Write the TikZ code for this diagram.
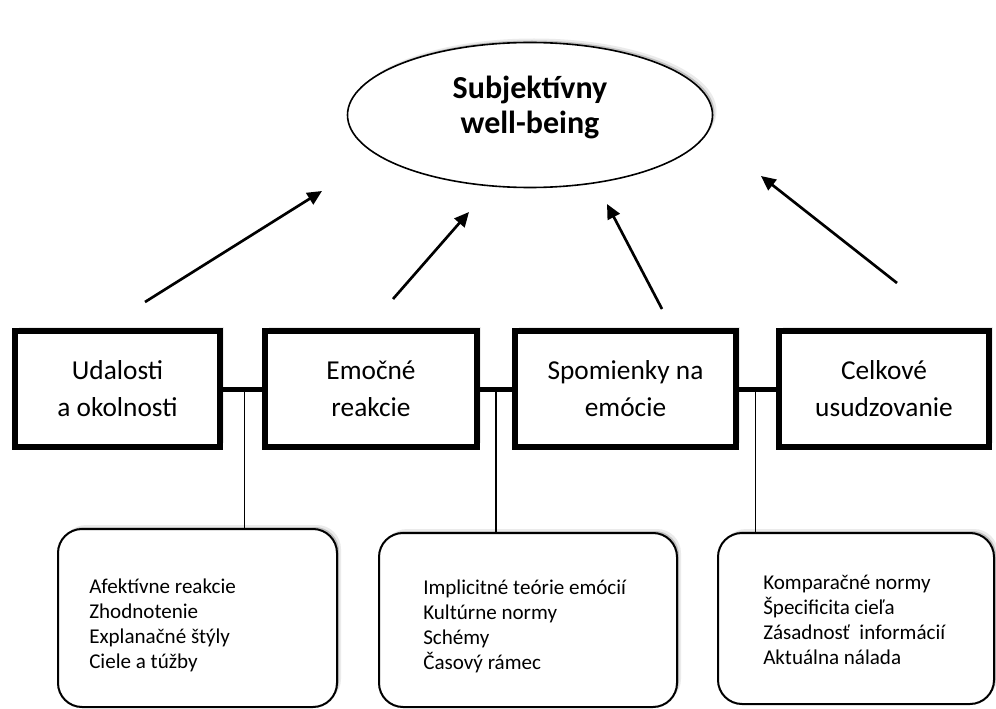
\documentclass[tikz,border=0pt]{standalone}
\usepackage{fontspec}
\setmainfont{Carlito}
\usetikzlibrary{shapes.geometric,arrows.meta,shadows,calc}
\begin{document}
\begin{tikzpicture}[x=0.75pt,y=-0.75pt,
  softshadow/.style={
    general shadow={shadow xshift=3pt,shadow yshift=3pt,fill=black,opacity=.08},
    general shadow={shadow xshift=1.5pt,shadow yshift=1.5pt,fill=black,opacity=.18}},
  topbox/.style={draw,line width=4.5pt,fill=white,minimum height=86.25pt,
    align=center,inner sep=0pt,font=\fontsize{20.5pt}{27.75pt}\selectfont,softshadow},
  botbox/.style={draw,line width=1.5pt,rounded corners=18pt,fill=white,inner sep=0pt,softshadow},
  listtext/.style={anchor=base west,align=left,inner sep=0pt,
    font=\fontsize{15.8pt}{18.75pt}\selectfont},
  link/.style={line width=3.75pt},
  thinlink/.style={line width=0.8pt},
  arr/.style={line width=2pt,-{Triangle[length=11pt,width=10pt]}}]
\useasboundingbox (0,0) rectangle (996,709);

% central ellipse
\node[ellipse,draw,line width=1.2pt,fill=white,minimum width=273.75pt,
  minimum height=108.75pt,softshadow] (wb) at (530,115) {};
\node[align=center,font=\bfseries\fontsize{24pt}{26.25pt}\selectfont] (wbt) at (530,107)
  {Subjektívny\\well-being};

% arrows
\coordinate (a1s) at (145,302); \coordinate (a1e) at (322,191);
\coordinate (a2s) at (393,299); \coordinate (a2e) at (469,212);
\coordinate (a3s) at (662,309); \coordinate (a3e) at (607,204);
\coordinate (a4s) at (897,283); \coordinate (a4e) at (761,176);
\draw[arr] (a1s) -- (a1e);
\draw[arr] (a2s) -- (a2e);
\draw[arr] (a3s) -- (a3e);
\draw[arr] (a4s) -- (a4e);

% bottom boxes
\node[botbox,minimum width=209.25pt,minimum height=133.5pt] (c1) at (197.5,618) {};
\node[botbox,minimum width=223.5pt,minimum height=130.5pt] (c2) at (528,620) {};
\node[botbox,minimum width=207pt,minimum height=128.25pt] (c3) at (856,618.5) {};

% top boxes
\node[topbox,minimum width=153.75pt] (b1) at (117.5,389) {Udalosti\\a okolnosti};
\node[topbox,minimum width=159pt] (b2) at (371,389) {Emočné\\reakcie};
\node[topbox,minimum width=165.75pt] (b3) at (625.5,389) {Spomienky na\\emócie};
\node[topbox,minimum width=157.5pt] (b4) at (884,389) {Celkové\\usudzovanie};

% connectors between boxes
\draw[link] (b1.east) -- (b2.west);
\draw[link] (b2.east) -- (b3.west);
\draw[link] (b3.east) -- (b4.west);
\coordinate (m1) at ($(b1.east)!0.55!(b2.west)$);
\coordinate (m2) at ($(b2.east)!0.5!(b3.west)$);
\coordinate (m3) at ($(b3.east)!0.44!(b4.west)$);
\draw[thinlink] (m1) -- (m1 |- c1.north);
\draw[thinlink] (m2) -- (m2 |- c2.north);
\draw[thinlink] (m3) -- (m3 |- c3.north);

% list texts (base anchor = baseline of the last line)
\node[listtext] (t1) at (89,668) {Afektívne reakcie\\Zhodnotenie\\Explanačné štýly\\Ciele a túžby};
\node[listtext] (t2) at (423,669) {Implicitné teórie emócií\\Kultúrne normy\\Schémy\\Časový rámec};
\node[listtext] (t3) at (763,664) {Komparačné normy\\Špecificita cieľa\\Zásadnosť\ \ informácií\\Aktuálna nálada};
\end{tikzpicture}
\end{document}
